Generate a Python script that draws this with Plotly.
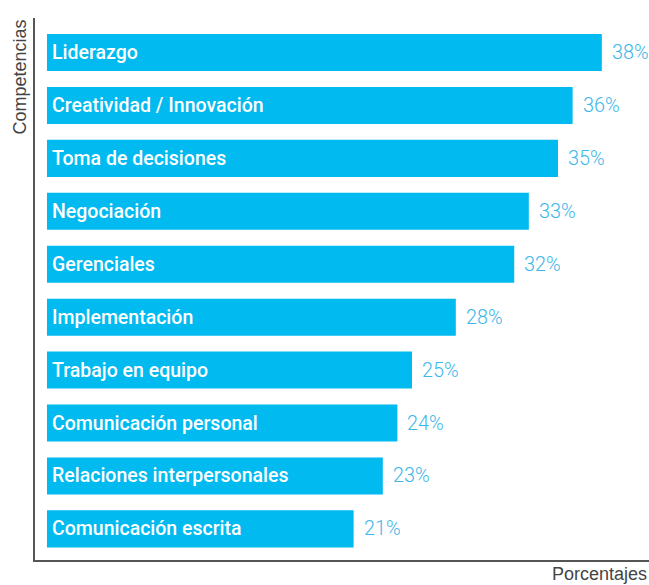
import plotly.graph_objects as go

competencias = [
    "Liderazgo",
    "Creatividad / Innovación",
    "Toma de decisiones",
    "Negociación",
    "Gerenciales",
    "Implementación",
    "Trabajo en equipo",
    "Comunicación personal",
    "Relaciones interpersonales",
    "Comunicación escrita",
]
porcentajes = [38, 36, 35, 33, 32, 28, 25, 24, 23, 21]

BAR_COLOR = "#00BAF0"
VALUE_COLOR = "#3DB7EA"
AXIS_COLOR = "#555555"
FONT = "Liberation Sans, Arial, sans-serif"
LABEL_FONT = "Roboto, Liberation Sans, Arial, sans-serif"

fig = go.Figure(
    go.Bar(
        x=porcentajes,
        y=list(range(len(competencias))),
        orientation="h",
        marker=dict(color=BAR_COLOR, line=dict(width=0)),
        hoverinfo="skip",
    )
)

annotations = []
for i, (name, val) in enumerate(zip(competencias, porcentajes)):
    # category name inside the bar
    annotations.append(dict(
        x=0, y=i, xref="x", yref="y", text=name, showarrow=False,
        xanchor="left", yanchor="middle", xshift=3,
        font=dict(family=LABEL_FONT, size=19.5, color="white", weight=500),
    ))
    # value label just past the bar end
    annotations.append(dict(
        x=val, y=i, xref="x", yref="y", text=f"{val}%", showarrow=False,
        xanchor="left", yanchor="middle", xshift=8,
        font=dict(family=LABEL_FONT, size=19.8, color=VALUE_COLOR, weight=300),
    ))

# axis titles
annotations.append(dict(
    x=0, y=1, xref="paper", yref="paper", text="Competencias", showarrow=False,
    textangle=-90, xanchor="right", yanchor="top", xshift=-4,
    font=dict(family=FONT, size=18, color="#444444"),
))
annotations.append(dict(
    x=1, y=0, xref="paper", yref="paper", text="Porcentajes", showarrow=False,
    xanchor="right", yanchor="top", yshift=-2,
    font=dict(family=FONT, size=18, color="#444444"),
))

fig.update_layout(
    width=649,
    height=585,
    margin=dict(l=35, r=0, t=18, b=25),
    paper_bgcolor="white",
    plot_bgcolor="white",
    bargap=0.30,
    showlegend=False,
    annotations=annotations,
    xaxis=dict(
        range=[-0.82, 41.23], showgrid=False, zeroline=False,
        showticklabels=False, ticks="",
        showline=True, linecolor=AXIS_COLOR, linewidth=1.5,
    ),
    yaxis=dict(
        range=[9.588, -0.652], showgrid=False, zeroline=False,
        showticklabels=False, ticks="",
        showline=True, linecolor=AXIS_COLOR, linewidth=1.5,
    ),
)

fig.write_html("out.html")
